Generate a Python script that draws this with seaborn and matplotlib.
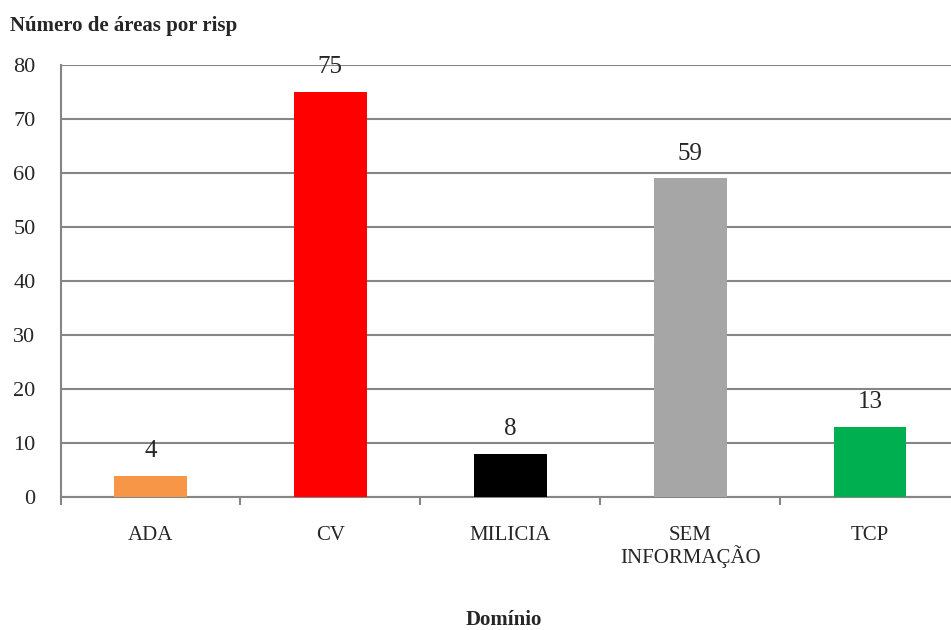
import matplotlib
matplotlib.use("Agg")
import matplotlib.pyplot as plt
import seaborn as sns
import pandas as pd
from matplotlib.ticker import FixedLocator

categorias = ["ADA", "CV", "MILICIA", "SEM\nINFORMAÇÃO", "TCP"]
valores = [4, 75, 8, 59, 13]
cores = ["#F79646", "#FF0000", "#000000", "#A6A6A6", "#00B050"]
y_ticks = [0, 10, 20, 30, 40, 50, 60, 70, 80]

sns.set_theme(style="white")
plt.rcParams["font.family"] = ["Liberation Serif", "DejaVu Serif"]

df = pd.DataFrame({"Domínio": categorias, "Áreas": valores})

fig = plt.figure(figsize=(9.51, 6.3), dpi=100)
ax = fig.add_axes([60.5 / 951, 132.7 / 630, (960 - 60.5) / 951, (565 - 132.7) / 630])

sns.barplot(data=df, x="Domínio", y="Áreas", hue="Domínio", palette=cores,
            order=categorias, hue_order=categorias, width=0.405,
            saturation=1, legend=False, ax=ax, zorder=3, linewidth=0)

grid_color = "#868686"
ax.set_ylim(0, 80)
ax.set_xlim(-0.5, len(categorias) - 0.5)
ax.set_yticks(y_ticks)
ax.yaxis.grid(True, color=grid_color, linewidth=1.5, zorder=0)
ax.set_axisbelow(True)

for side in ["top", "right"]:
    ax.spines[side].set_visible(False)
for side in ["left", "bottom"]:
    ax.spines[side].set_color(grid_color)
    ax.spines[side].set_linewidth(1.5)

# category labels centred, tick marks between categories
ax.set_xticks(range(len(categorias)))
ax.set_xticklabels(categorias, fontsize=15, linespacing=1.0)
ax.tick_params(axis="x", which="major", length=0, pad=21)
ax.xaxis.set_minor_locator(FixedLocator([i - 0.5 for i in range(len(categorias) + 1)]))
ax.tick_params(axis="x", which="minor", length=6, width=1.5, color=grid_color, direction="out")
ax.tick_params(axis="y", length=6, width=1.5, color=grid_color, direction="out",
               labelsize=16, pad=12)
ax.tick_params(axis="x", bottom=True, which="both")

for cont in ax.containers:
    ax.bar_label(cont, labels=[f"{v:g}" for v in cont.datavalues], padding=10, fontsize=18)

ax.set_xlabel("")
ax.set_ylabel("")

fig.text(10 / 951, 1 - 26 / 630, "Número de áreas por risp", fontsize=15,
         fontweight="bold", ha="left", va="center")
fig.text(504 / 951, 1 - 620 / 630, "Domínio", fontsize=15,
         fontweight="bold", ha="center", va="center")

fig.savefig("out.png", dpi=100)
